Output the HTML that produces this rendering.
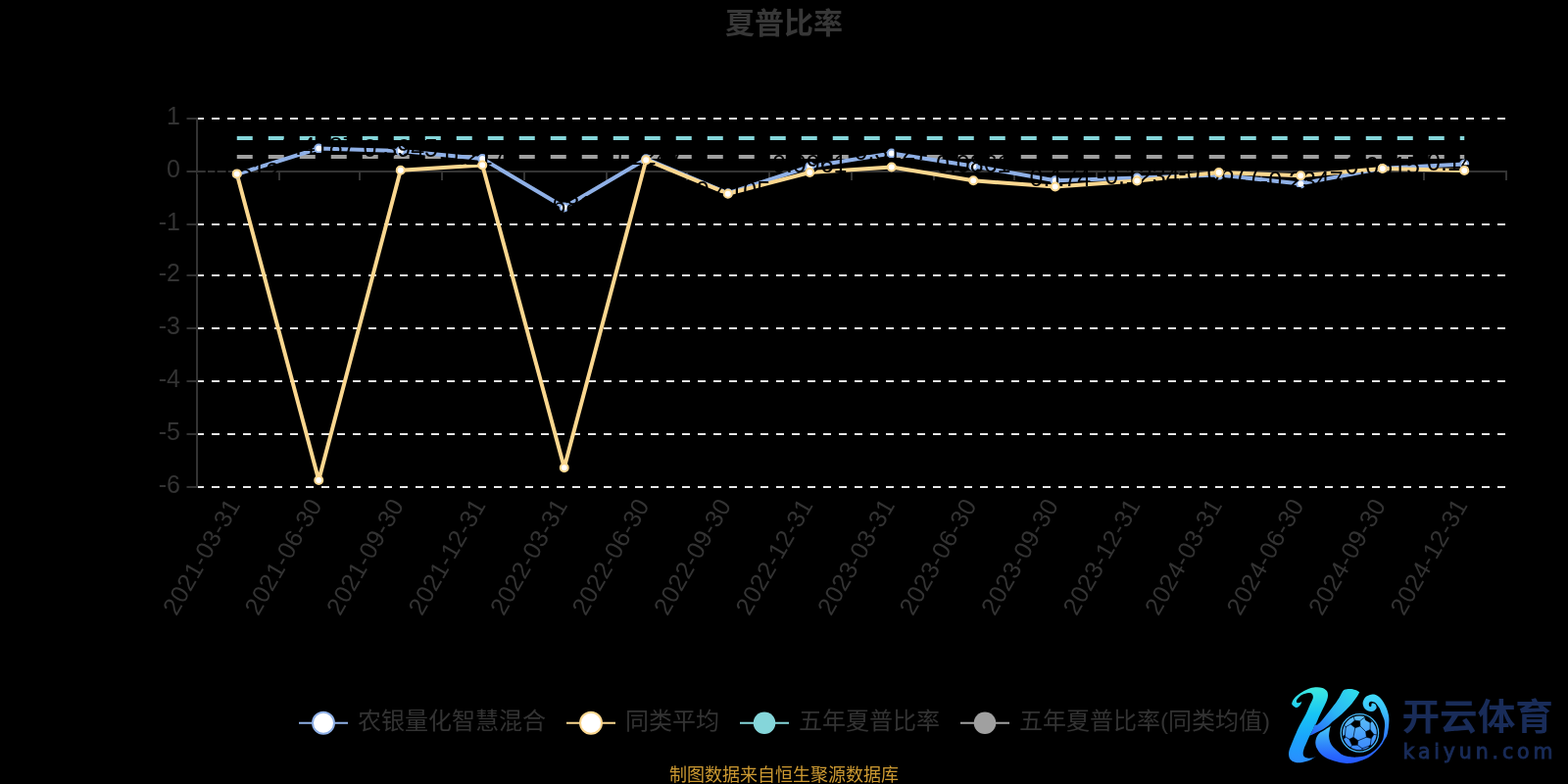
<!DOCTYPE html>
<html lang="zh-CN"><head><meta charset="utf-8"><title>夏普比率</title>
<style>html,body{margin:0;padding:0;background:#000;}body{width:1600px;height:800px;overflow:hidden;}svg{display:block;}text{font-family:"Liberation Sans","Noto Sans CJK SC",sans-serif;}</style>
</head><body>
<svg width="1600" height="800" viewBox="0 0 1600 800">
<rect width="1600" height="800" fill="#000"/>
<text x="800" y="33.5" text-anchor="middle" font-size="30" font-weight="bold" fill="#373737">夏普比率</text>
<g stroke="#e6e6e6" stroke-width="2" stroke-dasharray="8 8" fill="none">
<line x1="200" y1="121" x2="1537" y2="121"/>
<line x1="200" y1="229" x2="1537" y2="229"/>
<line x1="200" y1="281" x2="1537" y2="281"/>
<line x1="200" y1="335" x2="1537" y2="335"/>
<line x1="200" y1="389" x2="1537" y2="389"/>
<line x1="200" y1="443" x2="1537" y2="443"/>
<line x1="200" y1="497" x2="1537" y2="497"/>
</g>
<g stroke="#333" stroke-width="2" fill="none">
<line x1="201" y1="120" x2="201" y2="498"/>
<line x1="190.5" y1="121" x2="200" y2="121"/>
<line x1="190.5" y1="175" x2="200" y2="175"/>
<line x1="190.5" y1="229" x2="200" y2="229"/>
<line x1="190.5" y1="281" x2="200" y2="281"/>
<line x1="190.5" y1="335" x2="200" y2="335"/>
<line x1="190.5" y1="389" x2="200" y2="389"/>
<line x1="190.5" y1="443" x2="200" y2="443"/>
<line x1="190.5" y1="497" x2="200" y2="497"/>
<line x1="200" y1="175" x2="1538" y2="175"/>
<line x1="201" y1="175" x2="201" y2="184"/>
<line x1="285" y1="175" x2="285" y2="184"/>
<line x1="367" y1="175" x2="367" y2="184"/>
<line x1="451" y1="175" x2="451" y2="184"/>
<line x1="535" y1="175" x2="535" y2="184"/>
<line x1="619" y1="175" x2="619" y2="184"/>
<line x1="701" y1="175" x2="701" y2="184"/>
<line x1="785" y1="175" x2="785" y2="184"/>
<line x1="869" y1="175" x2="869" y2="184"/>
<line x1="953" y1="175" x2="953" y2="184"/>
<line x1="1035" y1="175" x2="1035" y2="184"/>
<line x1="1119" y1="175" x2="1119" y2="184"/>
<line x1="1203" y1="175" x2="1203" y2="184"/>
<line x1="1287" y1="175" x2="1287" y2="184"/>
<line x1="1369" y1="175" x2="1369" y2="184"/>
<line x1="1453" y1="175" x2="1453" y2="184"/>
<line x1="1537" y1="175" x2="1537" y2="184"/>
</g>
<g font-size="25" fill="#333" text-anchor="end">
<text x="184" y="127">1</text>
<text x="184" y="181">0</text>
<text x="184" y="235">-1</text>
<text x="184" y="287">-2</text>
<text x="184" y="341">-3</text>
<text x="184" y="395">-4</text>
<text x="184" y="449">-5</text>
<text x="184" y="503">-6</text>
</g>
<g font-size="25" fill="#333" text-anchor="end" letter-spacing="0.4">
<text transform="translate(240.75 512) rotate(-60)" x="0" y="6">2021-03-31</text>
<text transform="translate(324.25 512) rotate(-60)" x="0" y="6">2021-06-30</text>
<text transform="translate(407.75 512) rotate(-60)" x="0" y="6">2021-09-30</text>
<text transform="translate(491.25 512) rotate(-60)" x="0" y="6">2021-12-31</text>
<text transform="translate(574.75 512) rotate(-60)" x="0" y="6">2022-03-31</text>
<text transform="translate(658.25 512) rotate(-60)" x="0" y="6">2022-06-30</text>
<text transform="translate(741.75 512) rotate(-60)" x="0" y="6">2022-09-30</text>
<text transform="translate(825.25 512) rotate(-60)" x="0" y="6">2022-12-31</text>
<text transform="translate(908.75 512) rotate(-60)" x="0" y="6">2023-03-31</text>
<text transform="translate(992.25 512) rotate(-60)" x="0" y="6">2023-06-30</text>
<text transform="translate(1075.75 512) rotate(-60)" x="0" y="6">2023-09-30</text>
<text transform="translate(1159.25 512) rotate(-60)" x="0" y="6">2023-12-31</text>
<text transform="translate(1242.75 512) rotate(-60)" x="0" y="6">2024-03-31</text>
<text transform="translate(1326.25 512) rotate(-60)" x="0" y="6">2024-06-30</text>
<text transform="translate(1409.75 512) rotate(-60)" x="0" y="6">2024-09-30</text>
<text transform="translate(1493.25 512) rotate(-60)" x="0" y="6">2024-12-31</text>
</g>
<line x1="241.75" y1="141" x2="1494.25" y2="141" stroke="#85d6da" stroke-width="4" stroke-dasharray="16 16"/>
<line x1="241.75" y1="160" x2="1494.25" y2="160" stroke="#a0a0a0" stroke-width="4" stroke-dasharray="16 16"/>
<polyline points="241.75,177.80 325.25,151.50 408.75,154.00 492.25,162.00 575.75,211.50 659.25,162.20 742.75,197.20 826.25,170.00 909.75,156.50 993.25,169.50 1076.75,184.30 1160.25,181.60 1243.75,178.60 1327.25,187.40 1410.75,171.70 1494.25,167.50" fill="none" stroke="#8fb0e6" stroke-width="4" stroke-linejoin="bevel"/>
<polyline points="241.75,177.40 325.25,490.00 408.75,173.80 492.25,168.50 575.75,477.30 659.25,163.20 742.75,197.70 826.25,176.00 909.75,170.50 993.25,184.30 1076.75,190.50 1160.25,184.50 1243.75,176.00 1327.25,179.30 1410.75,172.00 1494.25,174.00" fill="none" stroke="#fbd78f" stroke-width="4" stroke-linejoin="bevel"/>
<g font-size="25" text-anchor="middle">
<circle cx="241.75" cy="177.80" r="4" fill="#fff" stroke="#8fb0e6" stroke-width="2"/>
<text x="242.75" y="183.80" fill="#000">-0.0512</text>
<circle cx="325.25" cy="151.50" r="4" fill="#fff" stroke="#8fb0e6" stroke-width="2"/>
<text x="325.25" y="157.50" fill="#000">0.4187</text>
<circle cx="408.75" cy="154.00" r="4" fill="#fff" stroke="#8fb0e6" stroke-width="2"/>
<text x="408.75" y="160.00" fill="#000">0.3945</text>
<circle cx="492.25" cy="162.00" r="4" fill="#fff" stroke="#8fb0e6" stroke-width="2"/>
<text x="492.25" y="168.00" fill="#000">0.2173</text>
<circle cx="575.75" cy="211.50" r="4" fill="#fff" stroke="#8fb0e6" stroke-width="2"/>
<text x="576.75" y="217.50" fill="#000">-0.6815</text>
<circle cx="659.25" cy="162.20" r="4" fill="#fff" stroke="#8fb0e6" stroke-width="2"/>
<text x="659.25" y="168.20" fill="#000">0.2247</text>
<circle cx="742.75" cy="197.20" r="4" fill="#fff" stroke="#8fb0e6" stroke-width="2"/>
<text x="743.75" y="203.20" fill="#000">-0.4105</text>
<circle cx="826.25" cy="170.00" r="4" fill="#fff" stroke="#8fb0e6" stroke-width="2"/>
<text x="826.25" y="176.00" fill="#000">0.0961</text>
<circle cx="909.75" cy="156.50" r="4" fill="#fff" stroke="#8fb0e6" stroke-width="2"/>
<text x="909.75" y="162.50" fill="#000">0.3127</text>
<circle cx="993.25" cy="169.50" r="4" fill="#fff" stroke="#8fb0e6" stroke-width="2"/>
<text x="993.25" y="175.50" fill="#000">0.0861</text>
<circle cx="1076.75" cy="184.30" r="4" fill="#fff" stroke="#8fb0e6" stroke-width="2"/>
<text x="1077.75" y="190.30" fill="#000">-0.174</text>
<circle cx="1160.25" cy="181.60" r="4" fill="#fff" stroke="#8fb0e6" stroke-width="2"/>
<text x="1161.25" y="187.60" fill="#000">-0.1234</text>
<circle cx="1243.75" cy="178.60" r="4" fill="#fff" stroke="#8fb0e6" stroke-width="2"/>
<text x="1244.75" y="184.60" fill="#000">-0.0677</text>
<circle cx="1327.25" cy="187.40" r="4" fill="#fff" stroke="#8fb0e6" stroke-width="2"/>
<text x="1328.25" y="193.40" fill="#000">-0.2347</text>
<circle cx="1410.75" cy="171.70" r="4" fill="#fff" stroke="#8fb0e6" stroke-width="2"/>
<text x="1410.75" y="177.70" fill="#000">0.0615</text>
<circle cx="1494.25" cy="167.50" r="4" fill="#fff" stroke="#8fb0e6" stroke-width="2"/>
<text x="1494.25" y="173.50" fill="#000">0.1409</text>
</g>
<g fill="#fff" stroke="#fbd78f" stroke-width="2">
<circle cx="241.75" cy="177.40" r="4"/>
<circle cx="325.25" cy="490.00" r="4"/>
<circle cx="408.75" cy="173.80" r="4"/>
<circle cx="492.25" cy="168.50" r="4"/>
<circle cx="575.75" cy="477.30" r="4"/>
<circle cx="659.25" cy="163.20" r="4"/>
<circle cx="742.75" cy="197.70" r="4"/>
<circle cx="826.25" cy="176.00" r="4"/>
<circle cx="909.75" cy="170.50" r="4"/>
<circle cx="993.25" cy="184.30" r="4"/>
<circle cx="1076.75" cy="190.50" r="4"/>
<circle cx="1160.25" cy="184.50" r="4"/>
<circle cx="1243.75" cy="176.00" r="4"/>
<circle cx="1327.25" cy="179.30" r="4"/>
<circle cx="1410.75" cy="172.00" r="4"/>
<circle cx="1494.25" cy="174.00" r="4"/>
</g>
<line x1="305.0" y1="737.8" x2="355.0" y2="737.8" stroke="#8fb0e6" stroke-width="2"/>
<circle cx="330.0" cy="737.8" r="11" fill="#fff" stroke="#8fb0e6" stroke-width="2"/>
<text x="365.0" y="744" font-size="24" fill="#333">农银量化智慧混合</text>
<line x1="578.0" y1="737.8" x2="628.0" y2="737.8" stroke="#fbd78f" stroke-width="2"/>
<circle cx="603.0" cy="737.8" r="11" fill="#fff" stroke="#fbd78f" stroke-width="2"/>
<text x="638.0" y="744" font-size="24" fill="#333">同类平均</text>
<line x1="755.0" y1="737.8" x2="805.0" y2="737.8" stroke="#85d6da" stroke-width="2"/>
<circle cx="780.0" cy="737.8" r="11.3" fill="#85d6da"/>
<text x="815.0" y="744" font-size="24" fill="#333">五年夏普比率</text>
<line x1="980.0" y1="737.8" x2="1030.0" y2="737.8" stroke="#a0a0a0" stroke-width="2"/>
<circle cx="1005.0" cy="737.8" r="11.3" fill="#a0a0a0"/>
<text x="1040.0" y="744" font-size="24" fill="#333">五年夏普比率(同类均值)</text>
<text x="800" y="796.5" text-anchor="middle" font-size="18" fill="#cd9a32">制图数据来自恒生聚源数据库</text>
<g id="logo" transform="translate(1310 695)">
<defs>
<linearGradient id="gStem" gradientUnits="userSpaceOnUse" x1="0" y1="6" x2="0" y2="84"><stop offset="0" stop-color="#3eeadf"/><stop offset="0.35" stop-color="#18c6f4"/><stop offset="0.65" stop-color="#1aa6fc"/><stop offset="1" stop-color="#2a8cff"/></linearGradient>
<linearGradient id="gArm" gradientUnits="userSpaceOnUse" x1="72" y1="8" x2="30" y2="56"><stop offset="0" stop-color="#2fdcea"/><stop offset="0.5" stop-color="#2bb4f5"/><stop offset="1" stop-color="#2a62f8"/></linearGradient>
<linearGradient id="gSw" gradientUnits="userSpaceOnUse" x1="0" y1="13" x2="0" y2="84"><stop offset="0" stop-color="#40dcfa"/><stop offset="0.25" stop-color="#3cc0fa"/><stop offset="0.45" stop-color="#3496fc"/><stop offset="0.68" stop-color="#2c74ff"/><stop offset="1" stop-color="#2458ff"/></linearGradient>
<linearGradient id="gLeg" gradientUnits="userSpaceOnUse" x1="0" y1="46" x2="0" y2="84"><stop offset="0" stop-color="#4acbf6"/><stop offset="0.25" stop-color="#3aa8f8"/><stop offset="0.5" stop-color="#3088fb"/><stop offset="0.78" stop-color="#2868ff"/><stop offset="1" stop-color="#2458ff"/></linearGradient>
<linearGradient id="gBall" gradientUnits="userSpaceOnUse" x1="0" y1="35" x2="0" y2="71"><stop offset="0" stop-color="#5cc0f6"/><stop offset="1" stop-color="#3a86ff"/></linearGradient>
</defs>
<clipPath id="cL"><rect x="0" y="0" width="68" height="90"/></clipPath><clipPath id="cR"><rect x="67.5" y="0" width="60" height="90"/></clipPath>
<path fill="url(#gLeg)" clip-path="url(#cL)" d="M47.80 46.10 C47.80 46.10 44.17 48.28 42.20 49.50 C40.23 50.72 37.50 52.00 36.00 53.40 C34.50 54.80 33.82 56.30 33.20 57.90 C32.58 59.50 32.22 61.22 32.30 63.00 C32.38 64.78 32.72 66.63 33.70 68.60 C34.68 70.57 36.32 73.02 38.20 74.80 C40.08 76.58 42.47 78.08 45.00 79.30 C47.53 80.52 50.90 81.38 53.40 82.10 C55.90 82.82 57.97 83.28 60.00 83.60 C62.03 83.92 63.10 84.18 65.60 84.00 C68.10 83.82 71.56 83.50 75.00 82.50 C78.44 81.50 83.12 79.75 86.25 78.00 C89.38 76.25 91.56 74.07 93.75 72.00 C95.94 69.93 97.91 67.60 99.40 65.60 C100.89 63.60 101.70 61.77 102.70 60.00 C103.70 58.23 104.70 57.17 105.40 55.00 C106.10 52.83 106.57 49.50 106.90 47.00 C107.23 44.50 107.40 42.10 107.40 40.00 C107.40 37.90 107.30 36.40 106.90 34.40 C106.50 32.40 105.82 30.07 105.00 28.00 C104.18 25.93 103.13 23.82 102.00 22.00 C100.87 20.18 99.58 18.42 98.20 17.10 C96.82 15.78 95.20 14.66 93.70 14.10 C92.20 13.54 90.75 13.50 89.20 13.75 C87.65 14.00 85.70 14.66 84.40 15.60 C83.10 16.54 82.03 18.27 81.40 19.40 C80.77 20.53 80.67 21.47 80.60 22.40 C80.53 23.33 80.68 24.07 81.00 25.00 C81.32 25.93 81.75 27.12 82.50 28.00 C83.25 28.88 84.38 29.75 85.50 30.25 C86.62 30.75 88.02 31.06 89.20 31.00 C90.38 30.94 91.72 30.47 92.60 29.90 C93.48 29.33 94.22 28.42 94.50 27.60 C94.78 26.78 94.55 25.72 94.30 25.00 C94.05 24.28 93.59 23.71 93.00 23.30 C92.41 22.89 91.32 22.59 90.75 22.56 C90.18 22.53 89.82 22.69 89.60 23.10 C89.38 23.51 89.55 24.50 89.40 25.00 C89.25 25.50 89.03 25.98 88.70 26.10 C88.37 26.23 87.72 26.12 87.40 25.75 C87.08 25.38 86.83 24.52 86.80 23.90 C86.77 23.27 86.92 22.47 87.20 22.00 C87.48 21.53 88.03 21.24 88.50 21.06 C88.97 20.88 89.25 20.78 90.00 20.90 C90.75 21.02 92.00 21.08 93.00 21.80 C94.00 22.52 95.18 24.17 96.00 25.20 C96.82 26.23 97.40 27.03 97.90 28.00 C98.40 28.97 98.45 29.62 99.00 31.00 C99.55 32.38 100.60 34.75 101.20 36.25 C101.80 37.75 102.28 38.54 102.60 40.00 C102.92 41.46 103.10 43.33 103.10 45.00 C103.10 46.67 102.78 48.33 102.60 50.00 C102.42 51.67 102.28 53.33 102.00 55.00 C101.72 56.67 101.65 58.23 100.90 60.00 C100.15 61.77 99.00 63.72 97.50 65.60 C96.00 67.47 94.08 69.56 91.90 71.25 C89.72 72.94 87.22 74.69 84.40 75.75 C81.58 76.81 77.82 77.35 75.00 77.60 C72.18 77.85 70.00 77.65 67.50 77.25 C65.00 76.85 62.08 76.16 60.00 75.20 C57.92 74.24 56.57 72.78 55.00 71.50 C53.43 70.22 51.90 69.10 50.60 67.50 C49.30 65.90 47.95 63.78 47.20 61.90 C46.45 60.02 46.18 58.08 46.10 56.20 C46.02 54.32 46.42 52.28 46.70 50.60 C46.98 48.92 47.80 46.10 47.80 46.10Z"/>
<path fill="url(#gSw)" clip-path="url(#cR)" d="M47.80 46.10 C47.80 46.10 44.17 48.28 42.20 49.50 C40.23 50.72 37.50 52.00 36.00 53.40 C34.50 54.80 33.82 56.30 33.20 57.90 C32.58 59.50 32.22 61.22 32.30 63.00 C32.38 64.78 32.72 66.63 33.70 68.60 C34.68 70.57 36.32 73.02 38.20 74.80 C40.08 76.58 42.47 78.08 45.00 79.30 C47.53 80.52 50.90 81.38 53.40 82.10 C55.90 82.82 57.97 83.28 60.00 83.60 C62.03 83.92 63.10 84.18 65.60 84.00 C68.10 83.82 71.56 83.50 75.00 82.50 C78.44 81.50 83.12 79.75 86.25 78.00 C89.38 76.25 91.56 74.07 93.75 72.00 C95.94 69.93 97.91 67.60 99.40 65.60 C100.89 63.60 101.70 61.77 102.70 60.00 C103.70 58.23 104.70 57.17 105.40 55.00 C106.10 52.83 106.57 49.50 106.90 47.00 C107.23 44.50 107.40 42.10 107.40 40.00 C107.40 37.90 107.30 36.40 106.90 34.40 C106.50 32.40 105.82 30.07 105.00 28.00 C104.18 25.93 103.13 23.82 102.00 22.00 C100.87 20.18 99.58 18.42 98.20 17.10 C96.82 15.78 95.20 14.66 93.70 14.10 C92.20 13.54 90.75 13.50 89.20 13.75 C87.65 14.00 85.70 14.66 84.40 15.60 C83.10 16.54 82.03 18.27 81.40 19.40 C80.77 20.53 80.67 21.47 80.60 22.40 C80.53 23.33 80.68 24.07 81.00 25.00 C81.32 25.93 81.75 27.12 82.50 28.00 C83.25 28.88 84.38 29.75 85.50 30.25 C86.62 30.75 88.02 31.06 89.20 31.00 C90.38 30.94 91.72 30.47 92.60 29.90 C93.48 29.33 94.22 28.42 94.50 27.60 C94.78 26.78 94.55 25.72 94.30 25.00 C94.05 24.28 93.59 23.71 93.00 23.30 C92.41 22.89 91.32 22.59 90.75 22.56 C90.18 22.53 89.82 22.69 89.60 23.10 C89.38 23.51 89.55 24.50 89.40 25.00 C89.25 25.50 89.03 25.98 88.70 26.10 C88.37 26.23 87.72 26.12 87.40 25.75 C87.08 25.38 86.83 24.52 86.80 23.90 C86.77 23.27 86.92 22.47 87.20 22.00 C87.48 21.53 88.03 21.24 88.50 21.06 C88.97 20.88 89.25 20.78 90.00 20.90 C90.75 21.02 92.00 21.08 93.00 21.80 C94.00 22.52 95.18 24.17 96.00 25.20 C96.82 26.23 97.40 27.03 97.90 28.00 C98.40 28.97 98.45 29.62 99.00 31.00 C99.55 32.38 100.60 34.75 101.20 36.25 C101.80 37.75 102.28 38.54 102.60 40.00 C102.92 41.46 103.10 43.33 103.10 45.00 C103.10 46.67 102.78 48.33 102.60 50.00 C102.42 51.67 102.28 53.33 102.00 55.00 C101.72 56.67 101.65 58.23 100.90 60.00 C100.15 61.77 99.00 63.72 97.50 65.60 C96.00 67.47 94.08 69.56 91.90 71.25 C89.72 72.94 87.22 74.69 84.40 75.75 C81.58 76.81 77.82 77.35 75.00 77.60 C72.18 77.85 70.00 77.65 67.50 77.25 C65.00 76.85 62.08 76.16 60.00 75.20 C57.92 74.24 56.57 72.78 55.00 71.50 C53.43 70.22 51.90 69.10 50.60 67.50 C49.30 65.90 47.95 63.78 47.20 61.90 C46.45 60.02 46.18 58.08 46.10 56.20 C46.02 54.32 46.42 52.28 46.70 50.60 C46.98 48.92 47.80 46.10 47.80 46.10Z"/>
<path fill="url(#gArm)" d="M59.60 11.20 C60.55 9.75 60.58 9.25 61.90 8.70 C63.22 8.15 65.63 7.85 67.50 7.90 C69.37 7.95 71.47 8.45 73.10 9.00 C74.73 9.55 77.30 11.20 77.30 11.20 C77.30 11.20 76.43 13.35 74.80 15.70 C73.17 18.05 70.12 22.30 67.50 25.30 C64.88 28.30 62.10 30.98 59.10 33.70 C56.10 36.42 51.67 39.72 49.50 41.60 C47.33 43.48 47.78 43.68 46.10 45.00 C44.42 46.32 41.47 48.28 39.40 49.50 C37.33 50.72 35.40 51.45 33.70 52.30 C32.00 53.15 30.42 54.03 29.20 54.60 C27.98 55.17 26.40 55.70 26.40 55.70 C26.40 55.70 28.35 52.38 29.20 50.60 C30.05 48.82 30.65 46.03 31.50 45.00 C32.35 43.97 32.98 45.33 34.30 44.40 C35.62 43.47 37.62 41.37 39.40 39.40 C41.18 37.43 43.13 34.95 45.00 32.60 C46.87 30.25 48.73 27.83 50.60 25.30 C52.47 22.77 54.70 19.75 56.20 17.40 C57.70 15.05 58.65 12.65 59.60 11.20Z"/>
<path fill="url(#gStem)" d="M8.20 22.50 C8.47 21.10 9.47 18.78 11.20 16.90 C12.93 15.02 15.97 12.80 18.60 11.20 C21.23 9.60 24.48 8.13 27.00 7.30 C29.52 6.47 31.63 6.25 33.70 6.20 C35.77 6.15 37.70 6.35 39.40 7.00 C41.10 7.65 42.97 8.83 43.90 10.10 C44.83 11.37 45.00 13.00 45.00 14.60 C45.00 16.20 44.65 17.63 43.90 19.70 C43.15 21.77 41.72 24.47 40.50 27.00 C39.28 29.53 37.82 32.28 36.60 34.90 C35.38 37.52 34.05 41.02 33.20 42.70 C32.35 44.38 32.17 43.68 31.50 45.00 C30.83 46.32 30.05 48.82 29.20 50.60 C28.35 52.38 27.33 53.82 26.40 55.70 C25.47 57.58 24.53 59.75 23.60 61.90 C22.67 64.05 21.45 66.55 20.80 68.60 C20.15 70.65 19.60 72.70 19.70 74.20 C19.80 75.70 20.47 76.85 21.40 77.60 C22.33 78.35 23.90 78.60 25.30 78.70 C26.70 78.80 28.58 78.47 29.80 78.20 C31.02 77.93 32.60 77.10 32.60 77.10 C32.60 77.10 29.78 79.07 28.10 79.90 C26.42 80.73 24.37 81.55 22.50 82.10 C20.63 82.65 18.78 83.10 16.90 83.20 C15.02 83.30 12.90 83.25 11.20 82.70 C9.50 82.15 7.72 81.12 6.70 79.90 C5.68 78.68 5.28 77.00 5.10 75.40 C4.92 73.80 5.05 72.37 5.60 70.30 C6.15 68.23 7.27 65.82 8.40 63.00 C9.53 60.18 11.08 56.40 12.40 53.40 C13.72 50.40 14.62 48.28 16.30 45.00 C17.98 41.72 20.72 37.27 22.50 33.70 C24.28 30.13 25.78 26.40 27.00 23.60 C28.22 20.80 29.52 18.68 29.80 16.90 C30.08 15.12 29.45 13.70 28.70 12.90 C27.95 12.10 26.98 11.90 25.30 12.10 C23.62 12.30 20.47 13.12 18.60 14.10 C16.73 15.08 15.05 16.88 14.10 18.00 C13.15 19.12 12.90 20.10 12.90 20.80 C12.90 21.50 13.43 22.05 14.10 22.20 C14.77 22.35 16.20 21.98 16.90 21.70 C17.60 21.42 18.30 20.50 18.30 20.50 C18.30 20.50 17.92 22.70 17.40 23.60 C16.88 24.50 16.03 25.33 15.20 25.90 C14.37 26.47 13.33 27.10 12.40 27.00 C11.47 26.90 10.30 26.05 9.60 25.30 C8.90 24.55 7.93 23.90 8.20 22.50Z"/>
<circle cx="77.4" cy="52.9" r="19.2" fill="#000" stroke="#45b8f8" stroke-width="1.3"/>
<circle cx="77.4" cy="52.9" r="17.4" fill="url(#gBall)"/>
<g fill="#000" stroke="#000" stroke-width="0.5" stroke-linejoin="round">
<polygon points="68.20,43.90 72.40,40.05 77.65,40.75 78.00,46.00 72.75,47.75"/>
<polygon points="83.60,51.60 88.15,49.50 92.00,54.40 89.20,58.60 84.30,57.20"/>
<polygon points="66.80,59.30 71.00,57.20 75.90,60.70 75.20,65.25 69.60,65.60"/>
<polygon points="82.34,36.20 86.75,37.46 89.76,41.24 88.36,42.50 83.32,39.70"/>
<polygon points="86.40,66.44 88.36,65.04 89.55,66.16 87.45,67.84"/>
<polygon points="60.50,56.15 62.46,54.96 62.74,57.90 61.20,58.60"/>
</g>
<g stroke="#021a3a" stroke-width="0.8" fill="none" stroke-linecap="round">
<line x1="72.75" y1="47.75" x2="71.00" y2="57.20"/>
<line x1="78.00" y1="46.00" x2="83.60" y2="51.60"/>
<line x1="84.30" y1="57.20" x2="75.90" y2="60.70"/>
<line x1="68.20" y1="43.90" x2="63.30" y2="46.70"/>
<line x1="72.40" y1="40.05" x2="71.00" y2="36.20"/>
<line x1="77.65" y1="40.75" x2="82.90" y2="36.55"/>
<line x1="88.15" y1="49.50" x2="88.15" y2="42.15"/>
<line x1="92.00" y1="54.40" x2="95.85" y2="55.10"/>
<line x1="89.20" y1="58.60" x2="88.36" y2="65.04"/>
<line x1="75.20" y1="65.25" x2="80.10" y2="68.75"/>
<line x1="69.60" y1="65.60" x2="67.85" y2="68.05"/>
<line x1="66.80" y1="59.30" x2="62.46" y2="56.50"/>
<line x1="63.30" y1="46.70" x2="62.46" y2="54.96"/>
<line x1="80.10" y1="68.75" x2="86.40" y2="66.44"/>
<line x1="63.30" y1="46.70" x2="61.55" y2="45.30"/>
<line x1="80.10" y1="68.75" x2="79.75" y2="70.50"/>
</g>
<text x="120.5" y="49.5" font-size="37" font-weight="bold" fill="#192c59" textLength="154.5" lengthAdjust="spacingAndGlyphs" style="font-family:'Noto Sans CJK SC','Liberation Sans',sans-serif">开云体育</text>
<text x="121.5" y="79.3" font-size="20.5" fill="#192c59" stroke="#192c59" stroke-width="0.9" textLength="153" lengthAdjust="spacing" style="font-family:'DejaVu Sans','Liberation Sans',sans-serif">kaiyun.com</text>
</g>
</svg></body></html>
